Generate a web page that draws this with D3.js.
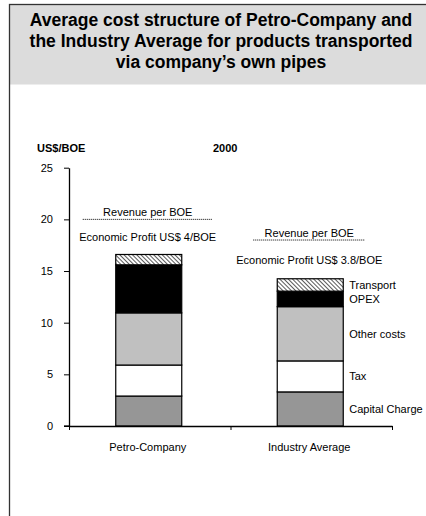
<!DOCTYPE html>
<html><head><meta charset="utf-8">
<script src="https://cdn.jsdelivr.net/npm/d3@7"></script>
<style>body{margin:0;background:#fff;}svg{display:block;font-family:"Liberation Sans",Arial,sans-serif;}</style>
</head><body>
<script>
const categories = ["Petro-Company", "Industry Average"];
const segments = ["Capital Charge", "Tax", "Other costs", "OPEX", "Transport"];
const capitalCharge = [2.9, 3.3];
const tax = [3.0, 3.0];
const otherCosts = [5.05, 5.25];
const opex = [4.65, 1.5];
const transport = [1.0, 1.2];
const revenue = [20, 18];
const profitLabels = ["Economic Profit US$ 4/BOE", "Economic Profit US$ 3.8/BOE"];
const yTicks = [0, 5, 10, 15, 20, 25];
const titleLines = ["Average cost structure of Petro-Company and", "the Industry Average for products transported", "via company\u2019s own pipes"];

const W = 426, H = 516;
const svg = d3.select("body").append("svg").attr("width", W).attr("height", H);
const defs = svg.append("defs");
const pat = defs.append("pattern").attr("id", "hatch").attr("patternUnits", "userSpaceOnUse")
  .attr("width", 3).attr("height", 3).attr("patternTransform", "rotate(-45)");
pat.append("rect").attr("width", 3).attr("height", 3).attr("fill", "#fff");
pat.append("line").attr("x1", 0).attr("y1", 0).attr("x2", 0).attr("y2", 3).attr("stroke", "#000").attr("stroke-width", 1.3);

const fills = {"Capital Charge": "#969696", "Tax": "#ffffff", "Other costs": "#c0c0c0", "OPEX": "#000000", "Transport": "url(#hatch)"};

// frame and title band
svg.append("rect").attr("x", 9.5).attr("y", 4.5).attr("width", 440).attr("height", 80).attr("fill", "#dcdcdc");
svg.append("rect").attr("x", 9.5).attr("y", 4.5).attr("width", 440).attr("height", 540).attr("fill", "none").attr("stroke", "#333").attr("stroke-width", 1.3);
svg.append("g").selectAll("text").data(titleLines).join("text")
  .attr("x", 221).attr("y", (d, i) => 26 + i * 21).attr("text-anchor", "middle")
  .attr("font-weight", "bold").attr("font-size", 17.5).attr("fill", "#000").text(d => d);

const x = d3.scaleBand().domain(categories).range([69, 392]).paddingInner(0).paddingOuter(0);
const y = d3.scaleLinear().domain([0, 25]).range([426, 167.7]);
const barW = 66;

// stack
const rows = categories.map((c, i) => ({cat: c, "Capital Charge": capitalCharge[i], "Tax": tax[i], "Other costs": otherCosts[i], "OPEX": opex[i], "Transport": transport[i]}));
const stacked = d3.stack().keys(segments)(rows);

const g = svg.append("g");
stacked.forEach(layer => {
  g.selectAll(null).data(layer).join("rect")
    .attr("x", d => x(d.data.cat) + x.bandwidth() / 2 - barW / 2 - 1)
    .attr("width", barW)
    .attr("y", d => y(d[1]))
    .attr("height", d => y(d[0]) - y(d[1]))
    .attr("fill", fills[layer.key]).attr("stroke", "#000").attr("stroke-width", 1.2);
});

// y axis
const yAxis = d3.axisLeft(y).tickValues(yTicks).tickSize(5).tickPadding(11).tickSizeOuter(0);
const ya = svg.append("g").attr("transform", "translate(69,0)").call(yAxis);
ya.select(".domain").attr("stroke", "#000").attr("stroke-width", 1.3);
ya.selectAll("text").attr("font-size", 11).attr("font-family", "Liberation Sans, Arial, sans-serif").attr("fill", "#000");

// x axis
const xAxis = d3.axisBottom(d3.scaleLinear().domain([0, 2]).range([69, 392])).tickValues([0, 1, 2]).tickSize(4).tickFormat("").tickSizeOuter(0);
const xa = svg.append("g").attr("transform", "translate(0,426)").call(xAxis);
xa.select(".domain").attr("stroke", "#000").attr("stroke-width", 1.3);
svg.append("line").attr("x1", 64).attr("x2", 69).attr("y1", 426).attr("y2", 426).attr("stroke", "#000").attr("stroke-width", 1.3);

svg.append("g").selectAll("text").data(categories).join("text")
  .attr("x", d => x(d) + x.bandwidth() / 2 - 2).attr("y", 451).attr("text-anchor", "middle")
  .attr("font-size", 11).text(d => d);

svg.append("text").attr("x", 37).attr("y", 152).attr("font-weight", "bold").attr("font-size", 11).text("US$/BOE");
svg.append("text").attr("x", 213).attr("y", 152).attr("font-weight", "bold").attr("font-size", 11).text("2000");

// revenue lines and profit labels
const totals = rows.map(r => segments.reduce((s, k) => s + r[k], 0));
categories.forEach((c, i) => {
  const cx = x(c) + x.bandwidth() / 2 - 2;
  const half = i === 0 ? 65 : 56;
  svg.append("line").attr("x1", cx - half).attr("x2", cx + half).attr("y1", y(revenue[i])).attr("y2", y(revenue[i]))
    .attr("stroke", "#000").attr("stroke-width", 1).attr("stroke-dasharray", "1,1");
  svg.append("text").attr("x", cx).attr("y", y(revenue[i]) - 3).attr("text-anchor", "middle").attr("font-size", 11).text("Revenue per BOE");
  svg.append("text").attr("x", cx).attr("y", y((revenue[i] + totals[i]) / 2) + (i === 0 ? 4 : 5)).attr("text-anchor", "middle").attr("font-size", 11).text(profitLabels[i]);
});

// segment labels on the right of second bar
const last = rows.length - 1;
stacked.forEach(layer => {
  const d = layer[last];
  svg.append("text").attr("x", x(categories[last]) + x.bandwidth() / 2 - barW / 2 - 1 + barW + 6)
    .attr("y", y((d[0] + d[1]) / 2) + 4).attr("font-size", 11).text(layer.key);
});
</script>
</body></html>
